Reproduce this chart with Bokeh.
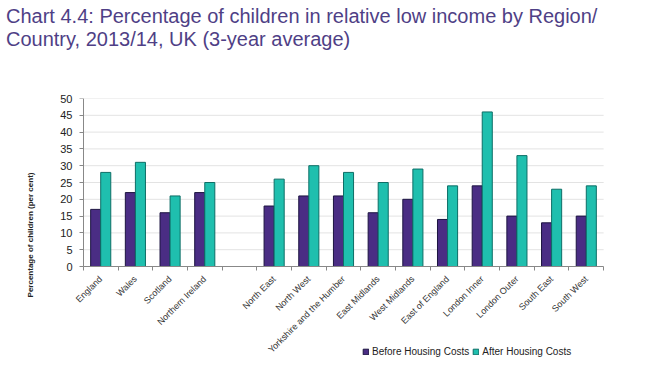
from bokeh.plotting import figure
from bokeh.models import (FactorRange, ColumnDataSource, Legend, LegendItem, FixedTicker,
                          Range1d, Div, LinearAxis, CustomJSTickFormatter)
from bokeh.layouts import column
from bokeh.transform import dodge
from bokeh.embed import file_html
from bokeh.resources import INLINE
import math

regions = ["England", "Wales", "Scotland", "Northern Ireland", " ",
           "North East", "North West", "Yorkshire and the Humber", "East Midlands",
           "West Midlands", "East of England", "London Inner", "London Outer",
           "South East", "South West"]
bar_regions = ["England", "Wales", "Scotland", "Northern Ireland",
               "North East", "North West", "Yorkshire and the Humber", "East Midlands",
               "West Midlands", "East of England", "London Inner", "London Outer",
               "South East", "South West"]
before_hc = [17, 22, 16, 22, 18, 21, 21, 16, 20, 14, 24, 15, 13, 15]
after_hc = [28, 31, 21, 25, 26, 30, 28, 25, 29, 24, 46, 33, 23, 24]
y_ticks = [0, 5, 10, 15, 20, 25, 30, 35, 40, 45, 50]
series_names = ["Before Housing Costs", "After Housing Costs"]
title_lines = ["Chart 4.4: Percentage of children in relative low income by Region/",
               "Country, 2013/14, UK (3-year average)"]

FONT = "Liberation Sans"
PURPLE = "#4a2d84"
TEAL = "#1fbfae"
PURPLE_EDGE = "#1c1440"
TEAL_EDGE = "#0d6e66"
PX_PER_UNIT = 168 / 50.0
BELOW_PX = 105
PAD = 0.4                      # categories of padding on each side
SLOT = 520 / 15.0
N = len(regions)

# ---- title ----
title = Div(text=("<div style=\"font-family:'Liberation Sans',Arial,sans-serif;font-size:20px;"
                  "line-height:22.5px;color:#4f3f86;padding:5px 0 0 6px;white-space:nowrap;\">"
                  + title_lines[0] + "<br>" + title_lines[1] + "</div>"),
            width=650, height=88, margin=0)

# ---- main chart ----
src = ColumnDataSource(dict(region=bar_regions, before=before_hc, after=after_hc))
xr = FactorRange(factors=regions, range_padding=PAD, range_padding_units="absolute",
                 factor_padding=0)
left = round(83 - PAD * SLOT)
right = round(650 - (603 + PAD * SLOT))
p = figure(width=650, height=283, x_range=xr,
           y_range=Range1d(-BELOW_PX / PX_PER_UNIT, 50),
           output_backend="svg", toolbar_location=None,
           min_border_left=left, min_border_right=right, min_border_top=10, min_border_bottom=0)
p.outline_line_color = None
p.background_fill_color = "white"
p.grid.grid_line_color = None

# horizontal gridlines spanning the category area only
grid_src = ColumnDataSource(dict(y=y_ticks[1:], x0=[0] * (len(y_ticks) - 1),
                                 x1=[N] * (len(y_ticks) - 1)))
p.segment(x0="x0", y0="y", x1="x1", y1="y", source=grid_src,
          line_color="#e3e3e3", line_width=1, level="underlay")

r1 = p.vbar(x=dodge("region", -0.145, range=xr), top="before", width=0.29, bottom=0,
            source=src, fill_color=PURPLE, line_color=PURPLE_EDGE, line_width=1)
r2 = p.vbar(x=dodge("region", 0.145, range=xr), top="after", width=0.29, bottom=0,
            source=src, fill_color=TEAL, line_color=TEAL_EDGE, line_width=1)

yt = FixedTicker(ticks=y_ticks)

# labels-only y axis in the left panel
p.yaxis.ticker = yt
p.yaxis.bounds = (0, 50)
p.yaxis.minor_tick_line_color = None
p.yaxis.major_tick_line_color = None
p.yaxis.axis_line_color = None
p.yaxis.major_tick_out = 0
p.yaxis.major_tick_in = 0
p.yaxis.major_label_standoff = -3
p.yaxis.major_label_text_font = FONT
p.yaxis.major_label_text_font_size = "11px"
p.yaxis.major_label_text_color = "#222222"
p.yaxis.axis_label = "Percentage of children (per cent)"
p.yaxis.axis_label_text_font = FONT
p.yaxis.axis_label_text_font_size = "8px"
p.yaxis.axis_label_text_font_style = "bold"
p.yaxis.axis_label_text_color = "#222222"
p.yaxis.axis_label_standoff = 22

# axis line + ticks at the first category's left edge
yline = LinearAxis(ticker=yt, fixed_location=0, bounds=(0, 50),
                   formatter=CustomJSTickFormatter(code="return ''"),
                   axis_line_color="#888888", major_tick_line_color="#888888",
                   major_tick_out=4, major_tick_in=0, minor_tick_line_color=None)
p.add_layout(yline, "left")

p.xaxis.fixed_location = 0
p.xaxis.bounds = (0, N)
p.xaxis.axis_line_color = "#888888"
p.xaxis.major_tick_line_color = None
p.xaxis.major_label_orientation = math.pi / 4
p.xaxis.major_label_text_font = FONT
p.xaxis.major_label_text_font_size = "9px"
p.xaxis.major_label_text_color = "#333333"
p.xaxis.major_label_standoff = 5

# tick marks between categories
xticks = LinearAxis(ticker=FixedTicker(ticks=list(range(N + 1))), fixed_location=0,
                    bounds=(0, N), formatter=CustomJSTickFormatter(code="return ''"),
                    axis_line_color=None, major_tick_line_color="#888888",
                    major_tick_out=4, major_tick_in=0, minor_tick_line_color=None)
p.add_layout(xticks, "below")

legend = Legend(items=[LegendItem(label=series_names[0], renderers=[r1]),
                       LegendItem(label=series_names[1], renderers=[r2])],
                location=(362 - left, 14), orientation="horizontal",
                glyph_width=7, glyph_height=7, label_text_font=FONT,
                label_text_font_size="10px", label_text_color="#222222",
                padding=0, margin=0, spacing=3, label_standoff=3,
                border_line_color=None, background_fill_alpha=0)
p.add_layout(legend, "center")

layout = column(title, p, spacing=0)
open("out.html", "w").write(file_html(layout, INLINE))
